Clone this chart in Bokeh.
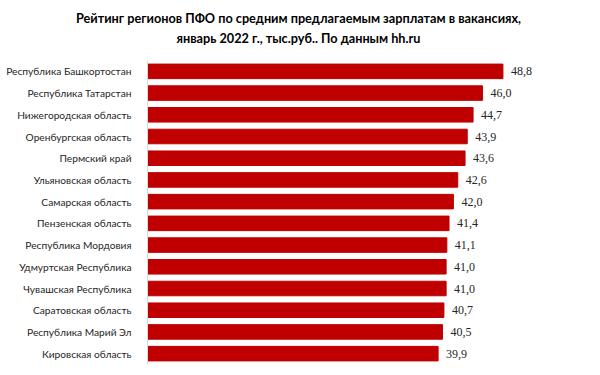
from bokeh.plotting import figure
from bokeh.models import ColumnDataSource, LabelSet, FactorRange
from bokeh.layouts import column
from bokeh.core.properties import value
from bokeh.embed import file_html
from bokeh.resources import INLINE

regions = ["Республика Башкортостан", "Республика Татарстан", "Нижегородская область",
           "Оренбургская область", "Пермский край", "Ульяновская область",
           "Самарская область", "Пензенская область", "Республика Мордовия",
           "Удмуртская Республика", "Чувашская Республика", "Саратовская область",
           "Республика Марий Эл", "Кировская область"]
salaries = [48.8, 46.0, 44.7, 43.9, 43.6, 42.6, 42.0, 41.4, 41.1, 41.0, 41.0, 40.7, 40.5, 39.9]
title_lines = ["Рейтинг регионов ПФО по средним предлагаемым зарплатам в вакансиях,",
               "январь 2022 г., тыс.руб.. По данным hh.ru"]

FONT = "Lato"
W = 584
TH = 60

# title panel
tp = figure(width=W, height=TH, output_backend="svg", toolbar_location=None,
            x_range=(0, W), y_range=(TH, 0), min_border=0)
tp.frame_align = False
tp.axis.visible = False
tp.grid.visible = False
tp.outline_line_color = None
tp.text(x=[W / 2 + 6, W / 2 + 6], y=[17, 37], text=title_lines, text_align="center",
        text_baseline="middle", text_font=value(FONT), text_font_style="bold",
        text_font_size="12.7px", text_color="#000000")

labels = [f"{v:.1f}".replace(".", ",") for v in salaries]
src = ColumnDataSource(dict(region=regions, value=salaries, label=labels))

p = figure(width=W, height=307, output_backend="svg", toolbar_location=None,
           y_range=FactorRange(*reversed(regions)), x_range=(0, 60),
           min_border_left=147, min_border_right=0, min_border_top=0, min_border_bottom=3)
p.frame_align = False
p.hbar(y="region", right="value", height=0.67, left=0, source=src,
       fill_color="#C00000", line_color="#C00000")

p.add_layout(LabelSet(x="value", y="region", text="label", source=src, x_offset=8,
                      text_baseline="middle", text_font=FONT, text_font_size="12px",
                      text_color="#262626"))

p.xaxis.visible = False
p.xgrid.visible = False
p.ygrid.visible = False
p.outline_line_color = None
p.yaxis.axis_line_color = "#d9d9d9"
p.yaxis.major_tick_line_color = None
p.yaxis.minor_tick_line_color = None
p.yaxis.major_label_standoff = 10
p.yaxis.major_label_text_font = FONT
p.yaxis.major_label_text_font_size = "10.2px"
p.yaxis.major_label_text_color = "#262626"

layout = column(tp, p, spacing=0)
open("out.html", "w").write(file_html(layout, INLINE))
